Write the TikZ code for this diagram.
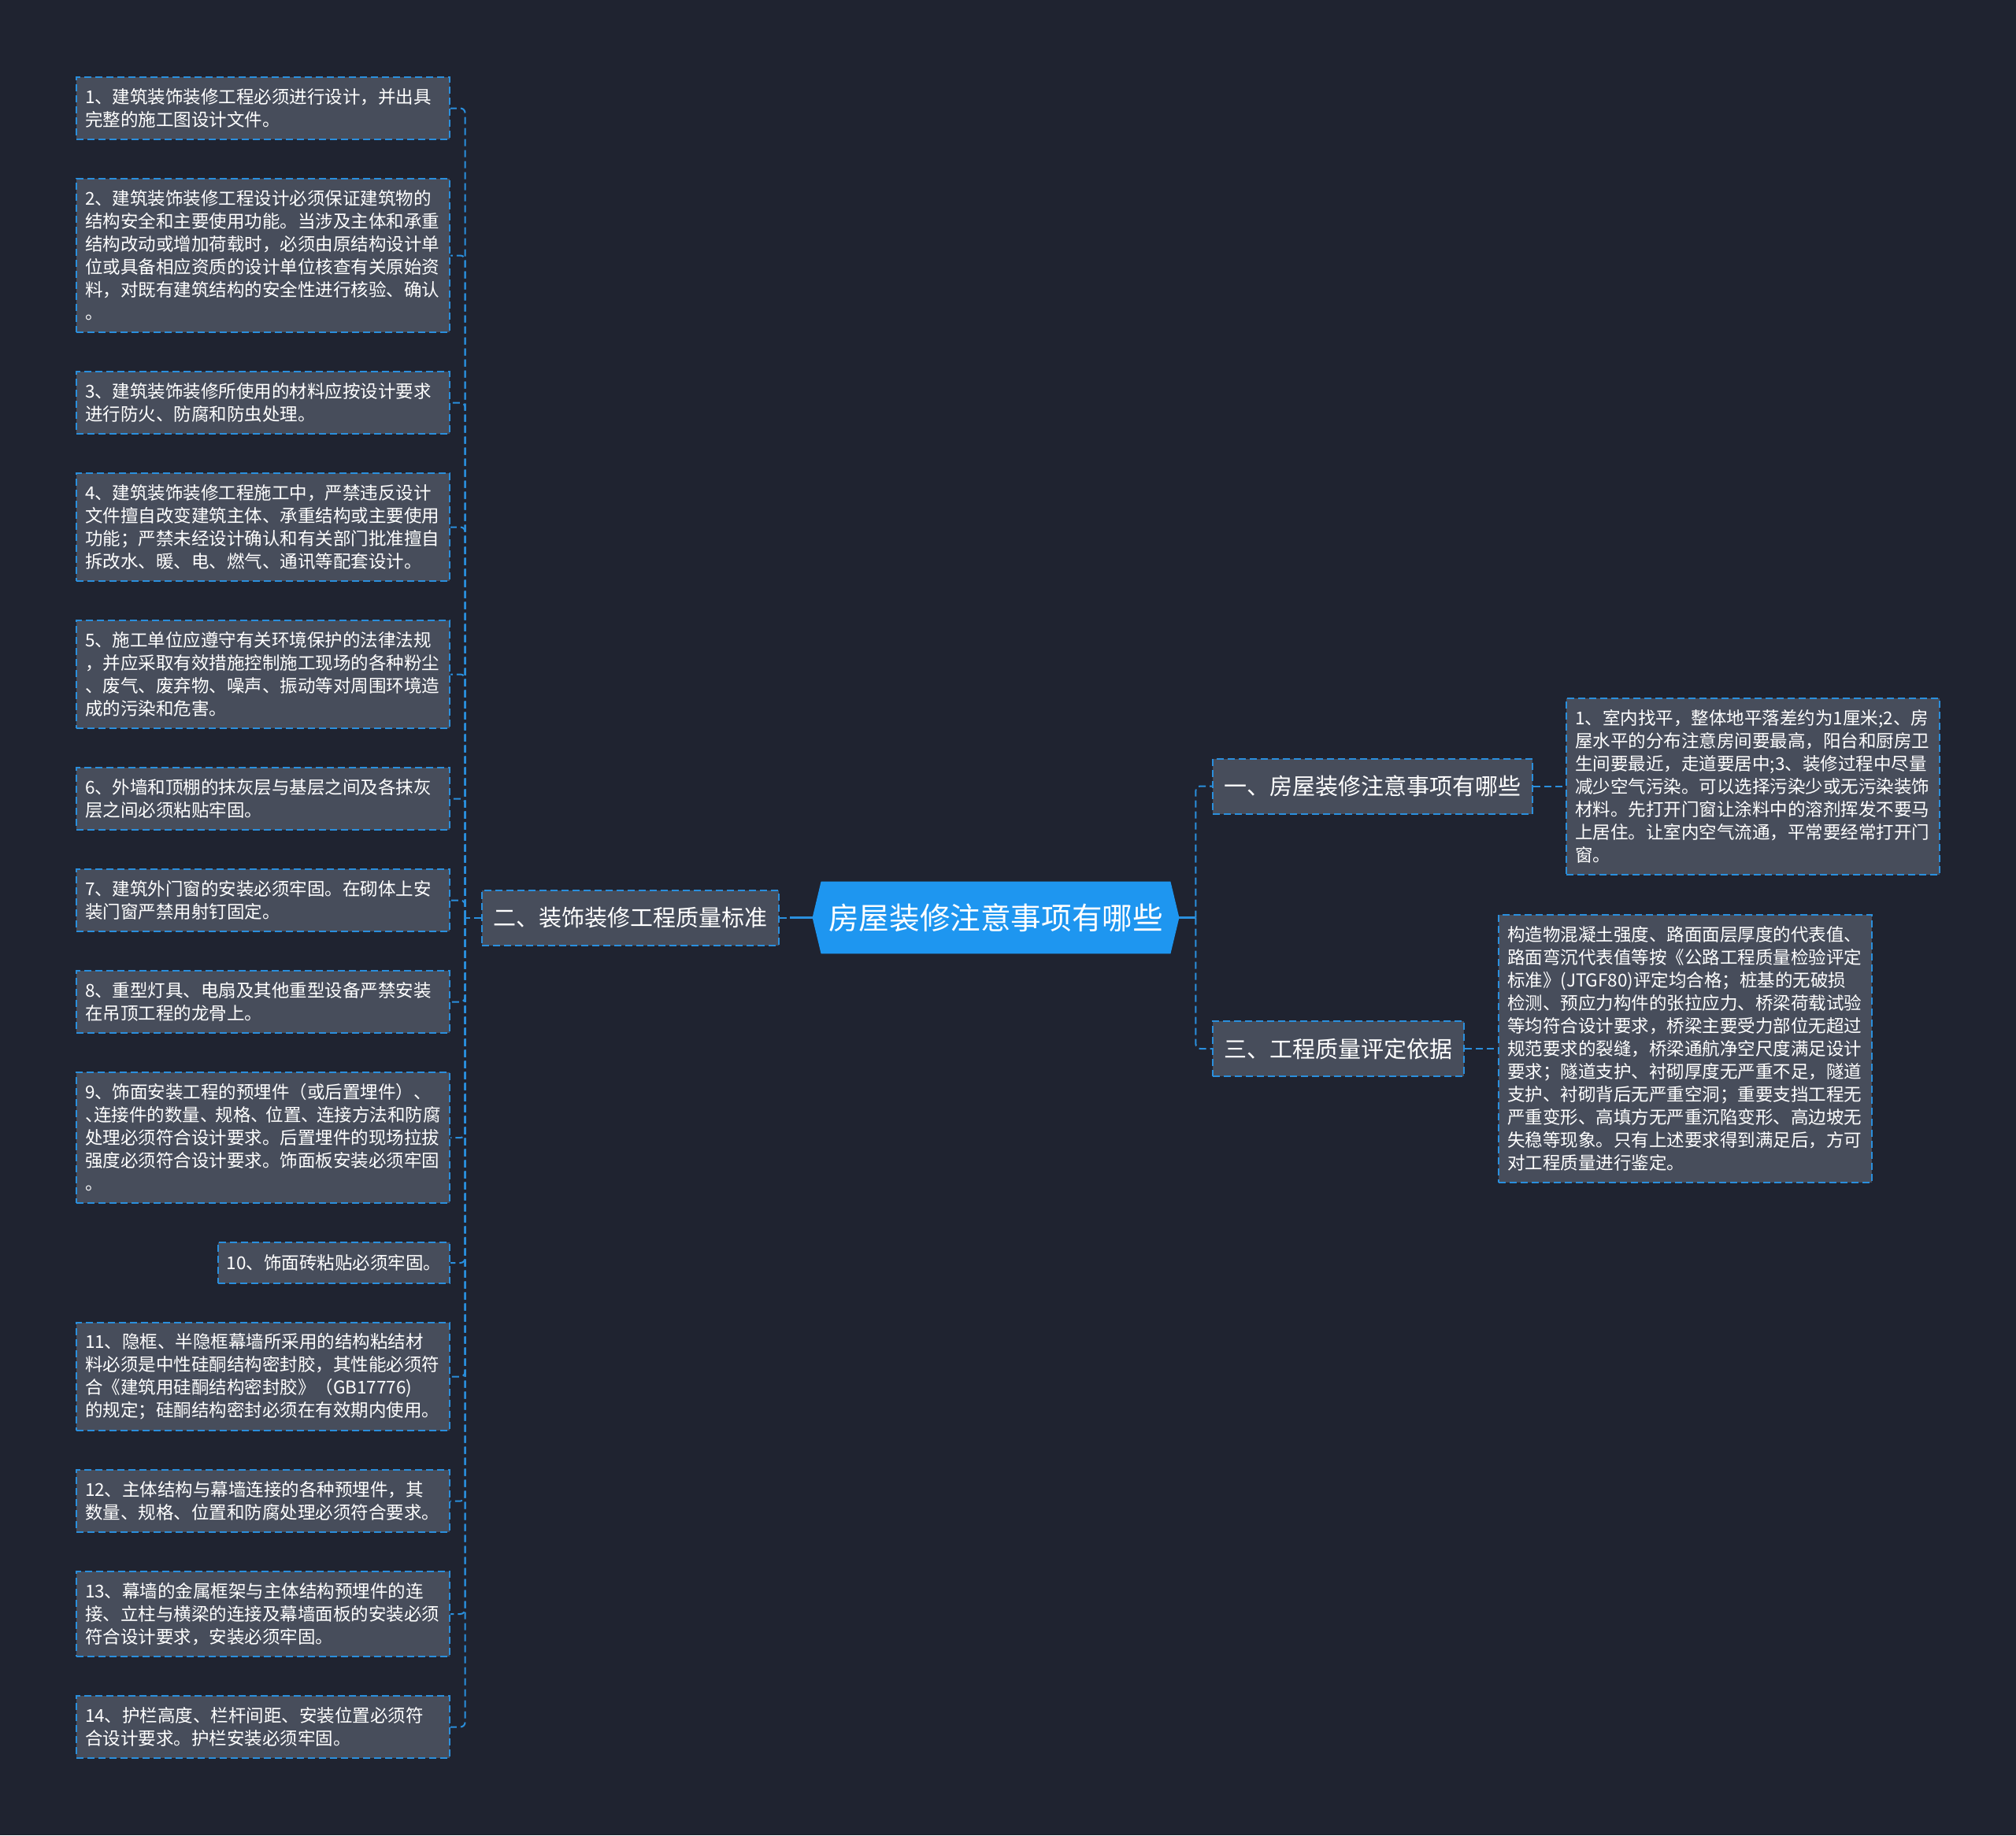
\documentclass[tikz,border=0pt]{standalone}
\usepackage{fontspec}
\setmainfont{Noto Sans CJK SC}
\usetikzlibrary{positioning, backgrounds}
\definecolor{pagebg}{HTML}{1F2330}
\definecolor{leaffill}{HTML}{474D5B}
\definecolor{linkblue}{HTML}{2A8FDD}
\definecolor{rootblue}{HTML}{1E96F0}

\begin{document}
\begin{tikzpicture}[
    node distance=24pt,
    box/.style={rectangle, draw=linkblue, line width=1pt, dash pattern=on 4.5pt off 2.5pt, fill=leaffill, text=white},
    leaf/.style={box, font=\fontsize{11.25}{14.5}\selectfont, align=left, inner xsep=5.5pt, inner ysep=2pt, minimum height=14.5pt*#1+10.5pt},
    leaf/.default=2,
    wideleaf/.style={leaf=#1, text width=226pt},
    branch/.style={box, font=\fontsize{14.5}{17}\selectfont, inner xsep=7.25pt, inner ysep=0pt, minimum height=35pt},
    root/.style={rectangle, text=white, font=\fontsize{19.3}{22}\selectfont, inner sep=0pt, minimum width=221.5pt, minimum height=45.5pt},
    link/.style={draw=linkblue, line width=1pt, dash pattern=on 4.5pt off 2.5pt, rounded corners=3pt},
    stem/.style={draw=linkblue, line width=1.4pt}
]

\begin{scope}[on background layer]
\fill[pagebg] (0,0) rectangle (1280pt,-1165.5pt);
\end{scope}
\useasboundingbox (0,0) rectangle (1280pt,-1165.5pt);

\node (root) [root] at (632.25pt,-582.75pt) {房屋装修注意事项有哪些};
\coordinate (rootL) at ([xshift=-5.5pt]root.west);
\coordinate (rootR) at ([xshift=5.5pt]root.east);
\begin{scope}[on background layer]
\fill[rootblue] (root.north west) -- (root.north east) -- (rootR) -- (root.south east) -- (root.south west) -- (rootL) -- cycle;
\end{scope}

\node (std) [branch, left=26.5pt of root] {二、装饰装修工程质量标准};
\node (tips) [branch, right=26.5pt of root, yshift=83.5pt] {一、房屋装修注意事项有哪些};
\node (basis) [branch, right=26.5pt of root, yshift=-83.25pt] {三、工程质量评定依据};

\node (tipsnote) [wideleaf=7, right=20.5pt of tips] {1、室内找平，整体地平落差约为1厘米;2、房\\屋水平的分布注意房间要最高，阳台和厨房卫\\生间要最近，走道要居中;3、装修过程中尽量\\减少空气污染。可以选择污染少或无污染装饰\\材料。先打开门窗让涂料中的溶剂挥发不要马\\上居住。让室内空气流通，平常要经常打开门\\窗。};
\node (basisnote) [wideleaf=11, right=21pt of basis] {构造物混凝土强度、路面面层厚度的代表值、\\路面弯沉代表值等按《公路工程质量检验评定\\标准》(JTGF80)评定均合格；桩基的无破损\\检测、预应力构件的张拉应力、桥梁荷载试验\\等均符合设计要求，桥梁主要受力部位无超过\\规范要求的裂缝，桥梁通航净空尺度满足设计\\要求；隧道支护、衬砌厚度无严重不足，隧道\\支护、衬砌背后无严重空洞；重要支挡工程无\\严重变形、高填方无严重沉陷变形、高边坡无\\失稳等现象。只有上述要求得到满足后，方可\\对工程质量进行鉴定。};

\node (s1) [wideleaf=2, anchor=north east] at (286pt,-48.5pt) {1、建筑装饰装修工程必须进行设计，并出具\\完整的施工图设计文件。};
\node (s2) [wideleaf=6, below left=24pt and 0pt of s1.south east] {2、建筑装饰装修工程设计必须保证建筑物的\\结构安全和主要使用功能。当涉及主体和承重\\结构改动或增加荷载时，必须由原结构设计单\\位或具备相应资质的设计单位核查有关原始资\\料，对既有建筑结构的安全性进行核验、确认\\。};
\node (s3) [wideleaf=2, below left=24pt and 0pt of s2.south east] {3、建筑装饰装修所使用的材料应按设计要求\\进行防火、防腐和防虫处理。};
\node (s4) [wideleaf=4, below left=24pt and 0pt of s3.south east] {4、建筑装饰装修工程施工中，严禁违反设计\\文件擅自改变建筑主体、承重结构或主要使用\\功能；严禁未经设计确认和有关部门批准擅自\\拆改水、暖、电、燃气、通讯等配套设计。};
\node (s5) [wideleaf=4, below left=24pt and 0pt of s4.south east] {5、施工单位应遵守有关环境保护的法律法规\\，并应采取有效措施控制施工现场的各种粉尘\\、废气、废弃物、噪声、振动等对周围环境造\\成的污染和危害。};
\node (s6) [wideleaf=2, below left=24pt and 0pt of s5.south east] {6、外墙和顶棚的抹灰层与基层之间及各抹灰\\层之间必须粘贴牢固。};
\node (s7) [wideleaf=2, below left=24pt and 0pt of s6.south east] {7、建筑外门窗的安装必须牢固。在砌体上安\\装门窗严禁用射钉固定。};
\node (s8) [wideleaf=2, below left=24pt and 0pt of s7.south east] {8、重型灯具、电扇及其他重型设备严禁安装\\在吊顶工程的龙骨上。};
\node (s9) [wideleaf=5, below left=24pt and 0pt of s8.south east] {9、饰面安装工程的预埋件（或后置埋件）、\\、\kern-0.5em 连接件的数量、\kern-0.14em 规格、\kern-0.14em 位置、\kern-0.14em 连接方法和防腐\\处理必须符合设计要求。后置埋件的现场拉拔\\强度必须符合设计要求。饰面板安装必须牢固\\。};
\node (s10) [leaf=1, minimum height=26pt, below left=24pt and 0pt of s9.south east] {10、饰面砖粘贴必须牢固。};
\node (s11) [wideleaf=4, below left=24pt and 0pt of s10.south east] {11、隐框、半隐框幕墙所采用的结构粘结材\\料必须是中性硅酮结构密封胶，其性能必须符\\合《建筑用硅酮结构密封胶》（GB17776)\\的规定；硅酮结构密封必须在有效期内使用。};
\node (s12) [wideleaf=2, below left=24pt and 0pt of s11.south east] {12、主体结构与幕墙连接的各种预埋件，其\\数量、规格、位置和防腐处理必须符合要求。};
\node (s13) [wideleaf=3, below left=24pt and 0pt of s12.south east] {13、幕墙的金属框架与主体结构预埋件的连\\接、立柱与横梁的连接及幕墙面板的安装必须\\符合设计要求，安装必须牢固。};
\node (s14) [wideleaf=2, below left=24pt and 0pt of s13.south east] {14、护栏高度、栏杆间距、安装位置必须符\\合设计要求。护栏安装必须牢固。};

\draw [link] (std.east) -- (rootL);
\draw [stem] (rootL) -- ++(-14.5pt,0);
\draw [stem] (rootR) -- ++(10.5pt,0) coordinate (fork);
\draw [link] (fork) |- (tips.west);
\draw [link] (fork) |- (basis.west);
\draw [link] (tips) -- (tipsnote);
\draw [link] (basis) -- (basisnote);

\draw [link] (std.west) -- ++(-10pt,0) coordinate (trunk);
\draw [link] (trunk) |- (s1.east);
\draw [link] (trunk) |- (s2.east);
\draw [link] (trunk) |- (s3.east);
\draw [link] (trunk) |- (s4.east);
\draw [link] (trunk) |- (s5.east);
\draw [link] (trunk) |- (s6.east);
\draw [link] (trunk) |- (s7.east);
\draw [link] (trunk) |- (s8.east);
\draw [link] (trunk) |- (s9.east);
\draw [link] (trunk) |- (s10.east);
\draw [link] (trunk) |- (s11.east);
\draw [link] (trunk) |- (s12.east);
\draw [link] (trunk) |- (s13.east);
\draw [link] (trunk) |- (s14.east);

\end{tikzpicture}
\end{document}
